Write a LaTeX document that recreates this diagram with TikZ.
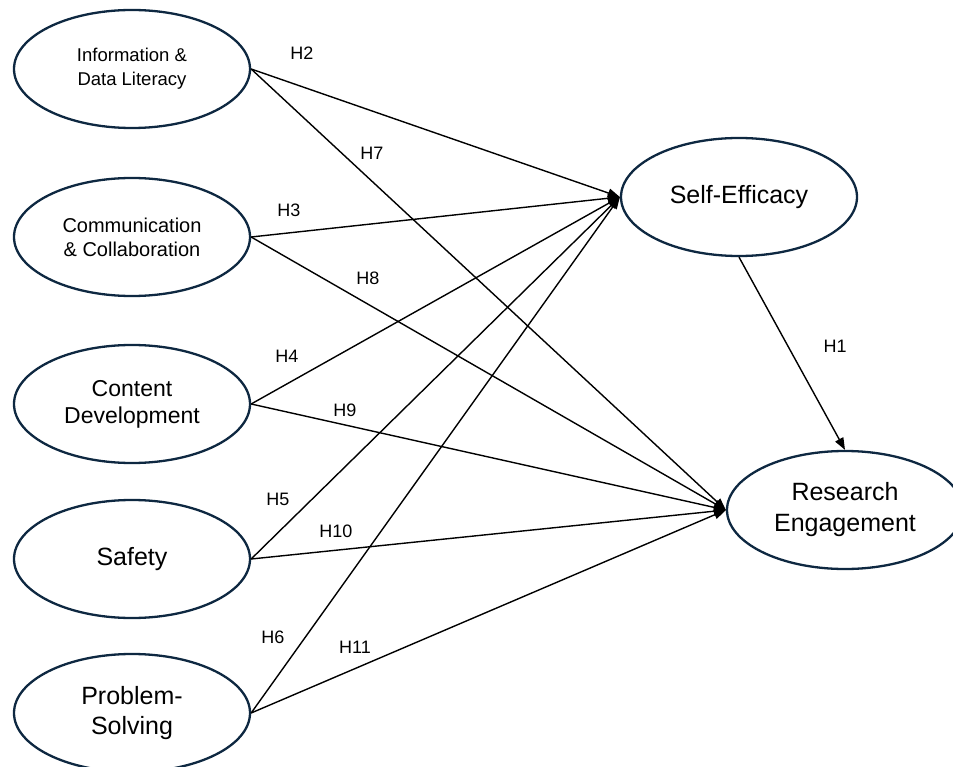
\documentclass[tikz,border=0pt]{standalone}
\usepackage{fontspec}
\setmainfont{Liberation Sans}
\usetikzlibrary{shapes.geometric,arrows.meta}
\definecolor{ringcol}{RGB}{14,40,65}
\begin{document}
\begin{tikzpicture}[x=1pt,y=-1pt,
  construct/.style={ellipse,draw=ringcol,line width=2.3pt,minimum width=236pt,minimum height=118pt,inner sep=0pt,align=center},
  path/.style={draw=black,line width=1.4pt,-{Triangle[length=12pt,width=9pt]}},
  hlab/.style={font=\fontsize{18}{21}\selectfont}
]
\useasboundingbox (0,0) rectangle (953,767);
\node[construct,font=\fontsize{18.5}{24}\selectfont] (idl) at (132,69) {Information \&\\Data Literacy};
\node[construct,font=\fontsize{20}{24}\selectfont] (cc) at (132,237) {Communication\\\& Collaboration};
\node[construct,font=\fontsize{23}{27}\selectfont] (cd) at (132,404) {Content\\Development};
\node[construct,font=\fontsize{25}{30}\selectfont] (sf) at (132,559) {Safety};
\node[construct,font=\fontsize{25}{30}\selectfont] (ps) at (132,713) {Problem-\\Solving};
\node[construct,font=\fontsize{25}{30}\selectfont] (se) at (739,197) {Self-Efficacy};
\node[construct,font=\fontsize{25}{31}\selectfont] (re) at (845,510) {Research\\Engagement};

\draw[path] (idl.east) -- (se.west);
\draw[path] (cc.east) -- (se.west);
\draw[path] (cd.east) -- (se.west);
\draw[path] (sf.east) -- (se.west);
\draw[path] (ps.east) -- (se.west);
\draw[path] (idl.east) -- (re.west);
\draw[path] (cc.east) -- (re.west);
\draw[path] (cd.east) -- (re.west);
\draw[path] (sf.east) -- (re.west);
\draw[path] (ps.east) -- (re.west);
\draw[path] (se.south) -- (re.north);

\node[hlab] (h2) at (302,53) {H2};
\node[hlab] (h7) at (372,153) {H7};
\node[hlab] (h3) at (289,210) {H3};
\node[hlab] (h8) at (368,278) {H8};
\node[hlab] (h4) at (287,356) {H4};
\node[hlab] (h9) at (345,410) {H9};
\node[hlab] (h5) at (278,499) {H5};
\node[hlab] (h10) at (336,531) {H10};
\node[hlab] (h6) at (273,637) {H6};
\node[hlab] (h11) at (355,647) {H11};
\node[hlab] (h1) at (835,346) {H1};
\end{tikzpicture}
\end{document}
